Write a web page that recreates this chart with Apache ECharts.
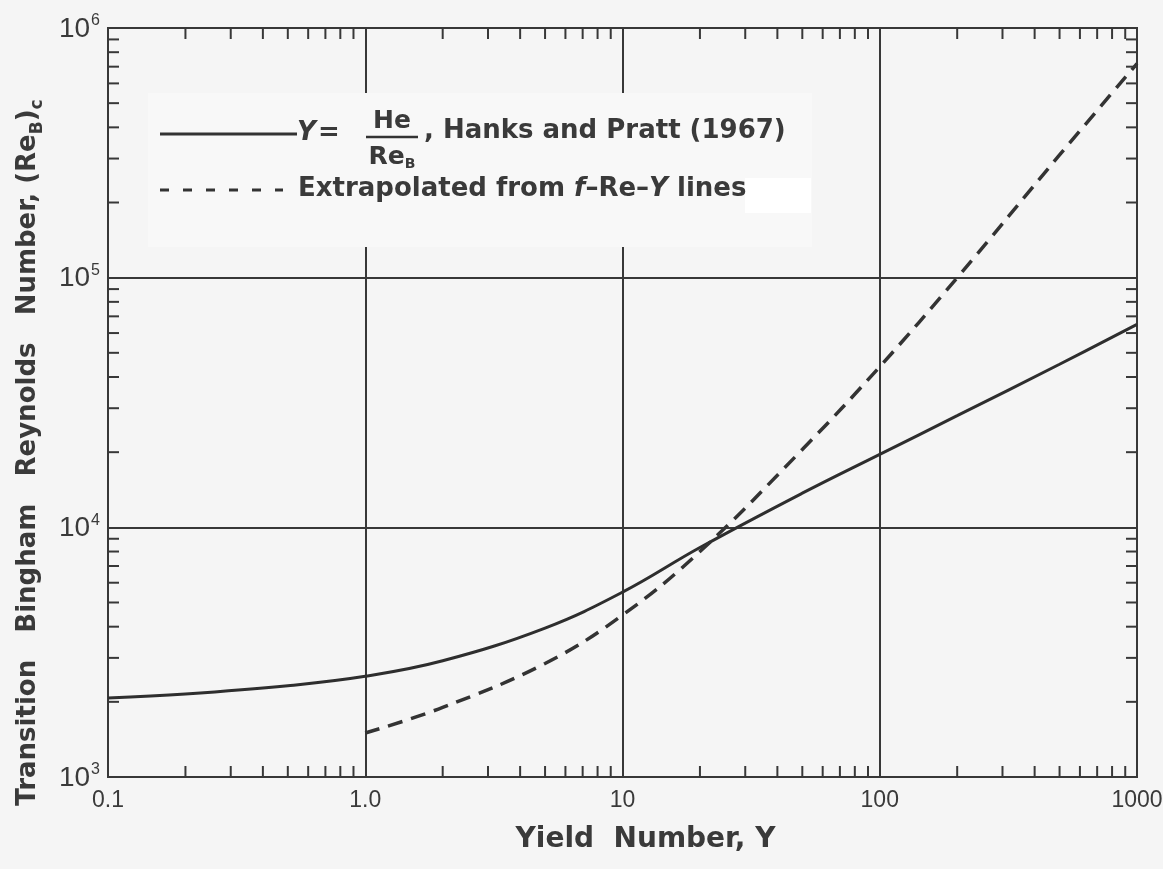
<!DOCTYPE html>
<html><head><meta charset="utf-8">
<script src="https://cdn.jsdelivr.net/npm/echarts@6/dist/echarts.min.js"></script>
<style>html,body{margin:0;padding:0;background:#f5f5f5}#c{width:1163px;height:869px}</style>
</head><body><div id="c"></div>
<script>
// ---- data ----
const xTickLabels = ['0.1', '1.0', '10', '100', '1000'];
const yTickExponents = ['3', '4', '5', '6'];
const solidX = [0.1, 0.2, 0.5, 1, 2, 5, 10, 20, 50, 100, 200, 500, 1000];
const solidY = [2070, 2150, 2320, 2530, 2920, 3950, 5500, 8300, 13700, 19600, 28000, 45000, 65000];
const dashX = [1, 2, 5, 10, 20, 50, 100, 200, 500, 1000];
const dashY = [1500, 1900, 2850, 4450, 8000, 20500, 44000, 100000, 310000, 720000];
const xMinorTicks = [0.2,0.3,0.4,0.5,0.6,0.7,0.8,0.9, 2,3,4,5,6,7,8,9, 20,30,40,50,60,70,80,90, 200,300,400,500,600,700,800,900];
const yMinorTicks = [2000,3000,4000,5000,6000,7000,8000,9000, 20000,30000,40000,50000,60000,70000,80000,90000, 200000,300000,400000,500000,600000,700000,800000,900000];
const xMin = 0.1, xMax = 1000, yMin = 1000, yMax = 1000000;

const INK = '#383838';
const TXT = '#3a3a3a';
const BOLD = 'DejaVu Sans';
const NARROW = '"Liberation Sans Narrow", "Liberation Sans", sans-serif';

function tickSeries(data, side) {
  const L = 11;
  return {
    type: 'custom', silent: true, z: 5, clip: false, data: data,
    renderItem: function (params, api) {
      const p = api.coord([api.value(0), api.value(1)]);
      let x2 = p[0], y2 = p[1];
      if (side === 'bottom') y2 -= L;
      else if (side === 'top') y2 += L;
      else if (side === 'left') x2 += L;
      else x2 -= L;
      return { type: 'line', shape: { x1: p[0], y1: p[1], x2: x2, y2: y2 },
               style: { stroke: INK, lineWidth: 2 } };
    }
  };
}

const chart = echarts.init(document.getElementById('c'));
chart.setOption({
  backgroundColor: '#f5f5f5',
  animation: false,
  grid: { left: 108, right: 26, top: 28, bottom: 92, containLabel: false, outerBoundsMode: 'none',
          show: true, borderColor: INK, borderWidth: 2, backgroundColor: 'transparent' },
  xAxis: {
    type: 'log', logBase: 10, min: xMin, max: xMax,
    axisLine: { show: true, lineStyle: { color: INK, width: 2 } },
    axisTick: { show: false },
    splitLine: { show: true, lineStyle: { color: INK, width: 2 } },
    axisLabel: {
      margin: 12, color: TXT, fontFamily: NARROW, fontSize: 23,
      formatter: function (v) { return xTickLabels[Math.round(Math.log10(v)) + 1]; }
    },
    name: 'Yield  Number, Y', nameLocation: 'middle', nameGap: 49,
    nameTextStyle: { color: TXT, fontFamily: BOLD, fontWeight: 'bold', fontSize: 28, padding: [0, 0, 0, 46] }
  },
  yAxis: {
    type: 'log', logBase: 10, min: yMin, max: yMax,
    axisLine: { show: true, lineStyle: { color: INK, width: 2 } },
    axisTick: { show: false },
    splitLine: { show: true, lineStyle: { color: INK, width: 2 } },
    axisLabel: {
      margin: 8, color: TXT, fontFamily: NARROW,
      formatter: function (v) { return '{b|10}{s|' + yTickExponents[Math.round(Math.log10(v)) - 3] + '}'; },
      rich: {
        b: { fontSize: 28, fontFamily: NARROW, color: TXT, lineHeight: 30, verticalAlign: 'bottom' },
        s: { fontSize: 16, fontFamily: NARROW, color: TXT, lineHeight: 15, verticalAlign: 'top', padding: [0, 0, 0, 1] }
      }
    },
    name: '{t|Transition   Bingham   Reynolds   Number, (Re}{u|B}{t|)}{u|c}',
    nameLocation: 'middle', nameRotate: 90, nameGap: 62,
    nameTextStyle: {
      padding: [0, 100, 0, 0],
      rich: {
        t: { fontFamily: BOLD, fontWeight: 'bold', fontSize: 26, color: TXT, lineHeight: 36, verticalAlign: 'middle' },
        u: { fontFamily: BOLD, fontWeight: 'bold', fontSize: 17, color: TXT, lineHeight: 17, verticalAlign: 'bottom' }
      }
    }
  },
  series: [
    {
      name: 'Hanks and Pratt (1967)', type: 'line', smooth: 0.4, showSymbol: false, silent: true, z: 3,
      data: solidX.map(function (x, i) { return [x, solidY[i]]; }),
      lineStyle: { color: '#2e2e2e', width: 3 }
    },
    {
      name: 'Extrapolated', type: 'line', smooth: 0.4, showSymbol: false, silent: true, z: 3,
      data: dashX.map(function (x, i) { return [x, dashY[i]]; }),
      lineStyle: { color: '#333333', width: 3.5, type: [15, 9] }
    },
    tickSeries(xMinorTicks.map(function (v) { return [v, yMin]; }), 'bottom'),
    tickSeries(xMinorTicks.map(function (v) { return [v, yMax]; }), 'top'),
    tickSeries(yMinorTicks.map(function (v) { return [xMin, v]; }), 'left'),
    tickSeries(yMinorTicks.map(function (v) { return [xMax, v]; }), 'right')
  ],
  graphic: [
    { type: 'rect', z: 100, shape: { x: 148, y: 93, width: 664, height: 154 }, style: { fill: '#f8f8f8' } },
    { type: 'rect', z: 101, shape: { x: 745, y: 178, width: 66, height: 35 }, style: { fill: '#ffffff' } },
    { type: 'line', z: 102, shape: { x1: 160, y1: 134, x2: 297, y2: 134 }, style: { stroke: '#333', lineWidth: 3 } },
    { type: 'text', z: 102, x: 297, y: 133, style: { text: 'Y', font: 'italic bold 26px "DejaVu Sans"', fill: TXT, verticalAlign: 'middle' } },
    { type: 'text', z: 102, x: 318, y: 133, style: { text: '=', font: 'bold 26px "DejaVu Sans"', fill: TXT, verticalAlign: 'middle' } },
    { type: 'text', z: 102, x: 392, y: 121, style: { text: 'He', font: 'bold 25px "DejaVu Sans"', fill: TXT, align: 'center', verticalAlign: 'middle' } },
    { type: 'line', z: 102, shape: { x1: 366, y1: 137, x2: 418, y2: 137 }, style: { stroke: '#333', lineWidth: 2.5 } },
    { type: 'text', z: 102, x: 392, y: 157, style: {
        text: '{r|Re}{s|B}', align: 'center', verticalAlign: 'middle',
        rich: { r: { font: 'bold 25px "DejaVu Sans"', fill: TXT, lineHeight: 28, verticalAlign: 'middle' },
                s: { font: 'bold 14px "DejaVu Sans"', fill: TXT, lineHeight: 14, verticalAlign: 'bottom' } } } },
    { type: 'text', z: 102, x: 424, y: 131, style: { text: ', Hanks and Pratt (1967)', font: 'bold 26px "DejaVu Sans"', fill: TXT, verticalAlign: 'middle' } },
    { type: 'line', z: 102, shape: { x1: 160, y1: 190, x2: 283, y2: 190 }, style: { stroke: '#333', lineWidth: 3, lineDash: [9, 14] } },
    { type: 'text', z: 102, x: 298, y: 189, style: {
        text: '{n|Extrapolated from }{i|f}{n|\u2013Re\u2013}{i|Y}{n| lines}', verticalAlign: 'middle',
        rich: { n: { font: 'bold 26px "DejaVu Sans"', fill: TXT },
                i: { font: 'italic bold 26px "DejaVu Sans"', fill: TXT } } } }
  ]
});
</script></body></html>
